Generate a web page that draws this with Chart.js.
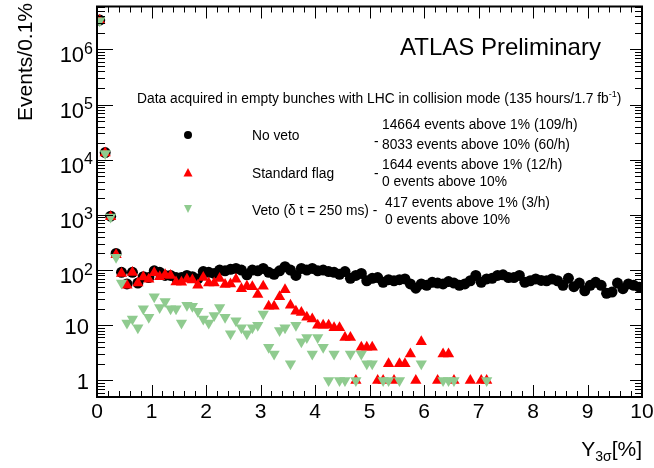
<!DOCTYPE html>
<html>
<head>
<meta charset="utf-8">
<script src="https://cdn.jsdelivr.net/npm/chart.js@4/dist/chart.umd.min.js"></script>
<style>
  html, body { margin: 0; padding: 0; background: #fff; }
</style>
</head>
<body>
<canvas id="grafico" width="654" height="468"></canvas>
<script>
// Y_3sigma histogram, 0.1% bins from 0 to 10%
const binWidth = 0.1;

const noVeto = [3.4e6, 13500, 950, 200, 91, 56, 91, 58, 76, 73,
  97, 91, 80, 80, 73, 73, 80, 76, 69, 94,
  91, 87, 100, 97, 103, 107, 100, 82, 100, 97,
  107, 91, 84, 97, 115, 100, 80, 107, 100, 107,
  97, 100, 94, 91, 84, 94, 71, 80, 87, 64,
  71, 73, 60, 67, 64, 67, 69, 56, 47, 56,
  53, 60, 58, 56, 62, 58, 53, 56, 64, 80,
  60, 69, 71, 80, 82, 73, 73, 80, 60, 64,
  69, 65, 64, 69, 64, 53, 71, 50, 58, 42,
  53, 60, 53, 38, 40, 58, 46, 56, 53, 49];

const standardFlag = [3.35e6, 13200, 930, 190, 87, 53, 90, 58, 75, 68,
  89, 76, 82, 80, 61, 60, 68, 66, 53, 73,
  58, 58, 70, 55, 56, 68, 46, 51, 50, 36,
  51, 22, 22, 33, 44, 23, 18, 17, 14, 13,
  10, 10, 10, 9, 9, 6, 6, 1, 4, 4,
  4, 1, 1, 2, 1, 2, 2, 3, 1, 5,
  null, null, 1, 3, 3, 1, null, null, 1, null,
  1, 1, null, null, null, null, null, null, null, null,
  null, null, null, null, null, null, null, null, null, null,
  null, null, null, null, null, null, null, null, null, null];

const vetoDt250 = [3.3e6, 13000, 920, 170, 58, 11, 13, 9, 20, 14,
  33, 21, 27, 20, 20, 11, 23, 22, 18, 13,
  11, 15, 21, 14, 7, 12, 9, 7, 9, 10,
  16, 4, 3, 8, 9, 2, 10, 5, 6, 3,
  6, 4, 1, 3, 1, 1, 3, 1, 3, 2,
  2, null, 1, 1, null, 1, null, null, null, 2,
  null, null, null, 1, 1, 1, null, null, null, null,
  null, 1, null, null, null, null, null, null, null, null,
  null, null, null, null, null, null, null, null, null, null,
  null, null, null, null, null, null, null, null, null, null];

const xTickLabels = ['0', '1', '2', '3', '4', '5', '6', '7', '8', '9', '10'];
const yDecades = [0, 1, 2, 3, 4, 5, 6];

const FONT = '"Liberation Sans", Arial, Helvetica, sans-serif';
const GREEN = '#8fcb8f';

// points at the bin centres
function toPoints(values) {
  return values.map((v, i) => ({ x: (i + 0.5) * binWidth, y: v }));
}

// text with a raised (or lowered) smaller part
function richText(ctx, parts, x, y, align) {
  let w = 0;
  parts.forEach(p => { ctx.font = p.size + 'px ' + FONT; p.w = ctx.measureText(p.t).width; w += p.w; });
  let cx = align === 'right' ? x - w : x;
  ctx.textAlign = 'left';
  parts.forEach(p => {
    ctx.font = p.size + 'px ' + FONT;
    ctx.fillText(p.t, cx, y + (p.dy || 0));
    cx += p.w;
  });
}

const atlasFrame = {
  id: 'atlasFrame',
  afterDraw(chart) {
    const { ctx, chartArea: a } = chart;
    const xs = chart.scales.x, ys = chart.scales.y;
    ctx.save();

    // ticks on all four sides, pointing inwards
    ctx.strokeStyle = '#000';
    ctx.lineWidth = 1;
    ctx.beginPath();
    for (let i = 0; i <= 50; i++) {
      const px = Math.round(xs.getPixelForValue(i / 5)) + 0.5;
      const len = i % 5 === 0 ? 12 : 6;
      ctx.moveTo(px, a.bottom); ctx.lineTo(px, a.bottom - len);
      ctx.moveTo(px, a.top); ctx.lineTo(px, a.top + len);
    }
    for (let k = -1; k <= 6; k++) {
      for (let m = 1; m <= 9; m++) {
        const v = m * Math.pow(10, k);
        if (v < ys.min || v > ys.max) continue;
        const py = Math.round(ys.getPixelForValue(v)) + 0.5;
        const major = m === 1;
        ctx.moveTo(a.left, py); ctx.lineTo(a.left + (major ? 16 : 8), py);
        ctx.moveTo(a.right, py); ctx.lineTo(a.right - (major ? 12 : 7), py);
      }
    }
    ctx.stroke();
    ctx.lineWidth = 2;
    ctx.strokeRect(a.left, a.top, a.right - a.left, a.bottom - a.top);

    ctx.fillStyle = '#000';
    ctx.textBaseline = 'alphabetic';

    // x tick labels
    ctx.font = '21px ' + FONT;
    ctx.textAlign = 'center';
    xTickLabels.forEach((t, i) => ctx.fillText(t, xs.getPixelForValue(i), 418));

    // y tick labels
    yDecades.forEach(k => {
      const py = ys.getPixelForValue(Math.pow(10, k));
      if (k === 0) richText(ctx, [{ t: '1', size: 22 }], 89, py + 8.5, 'right');
      else if (k === 1) richText(ctx, [{ t: '10', size: 22 }], 89, py + 8.5, 'right');
      else richText(ctx, [{ t: '10', size: 22 }, { t: String(k), size: 16, dy: -8.5 }], 93, py + 13, 'right');
    });

    // axis titles
    richText(ctx, [{ t: 'Y', size: 21 }, { t: '3σ', size: 14, dy: 5 }, { t: '[%]', size: 21 }], 642, 456, 'right');
    ctx.save();
    ctx.translate(32, 3);
    ctx.rotate(-Math.PI / 2);
    ctx.font = '21px ' + FONT;
    ctx.textAlign = 'right';
    ctx.fillText('Events/0.1%', 0, 0);
    ctx.restore();

    // labels inside the frame
    ctx.font = '24px ' + FONT;
    ctx.textAlign = 'left';
    ctx.fillText('ATLAS Preliminary', 400, 55);

    richText(ctx, [
      { t: 'Data acquired in empty bunches with LHC in collision mode (135 hours/1.7 fb', size: 13.8 },
      { t: '-1', size: 9, dy: -6 },
      { t: ')', size: 13.8 }
    ], 137, 103, 'left');

    // legend markers
    ctx.fillStyle = '#000';
    ctx.beginPath(); ctx.arc(188, 135, 4, 0, Math.PI * 2); ctx.fill();
    ctx.fillStyle = '#ff0000';
    ctx.beginPath(); ctx.moveTo(188, 168); ctx.lineTo(192.5, 176.5); ctx.lineTo(183.5, 176.5); ctx.closePath(); ctx.fill();
    ctx.fillStyle = GREEN;
    ctx.beginPath(); ctx.moveTo(184, 205); ctx.lineTo(192, 205); ctx.lineTo(188, 213); ctx.closePath(); ctx.fill();

    ctx.fillStyle = '#000';
    ctx.font = '13.8px ' + FONT;
    ctx.textAlign = 'left';
    ctx.fillText('No veto', 252, 140);
    ctx.fillText('Standard flag', 252, 178);
    ctx.fillText('Veto (δ t = 250 ms) -', 252, 215);
    ctx.fillText('-', 374, 146);
    ctx.fillText('-', 374, 178);
    ctx.fillText('14664 events above 1% (109/h)', 382, 129);
    ctx.fillText('8033 events above 10% (60/h)', 382, 149);
    ctx.fillText('1644 events above 1% (12/h)', 382, 169);
    ctx.fillText('0 events above 10%', 382, 186);
    ctx.fillText('417 events above 1% (3/h)', 385, 207);
    ctx.fillText('0 events above 10%', 385, 224);

    ctx.restore();
  }
};

new Chart(document.getElementById('grafico'), {
  type: 'scatter',
  data: {
    datasets: [
      { label: 'No veto', data: toPoints(noVeto), pointStyle: 'circle', pointRadius: 5.5,
        backgroundColor: '#000', borderWidth: 0, order: 3 },
      { label: 'Standard flag', data: toPoints(standardFlag), pointStyle: 'triangle', pointRadius: 6.5,
        backgroundColor: '#ff0000', borderWidth: 0, order: 2 },
      { label: 'Veto (δ t = 250 ms)', data: toPoints(vetoDt250), pointStyle: 'triangle', rotation: 180,
        pointRadius: 6.5, backgroundColor: GREEN, borderWidth: 0, order: 1 }
    ]
  },
  options: {
    responsive: false,
    animation: false,
    devicePixelRatio: 1,
    layout: { padding: { left: 97, right: 12, top: 5, bottom: 71 } },
    scales: {
      x: { type: 'linear', min: 0, max: 10, display: false },
      y: { type: 'logarithmic', min: 0.5, max: 6e6, display: false }
    },
    plugins: { legend: { display: false }, tooltip: { enabled: false } }
  },
  plugins: [atlasFrame]
});
</script>
</body>
</html>
